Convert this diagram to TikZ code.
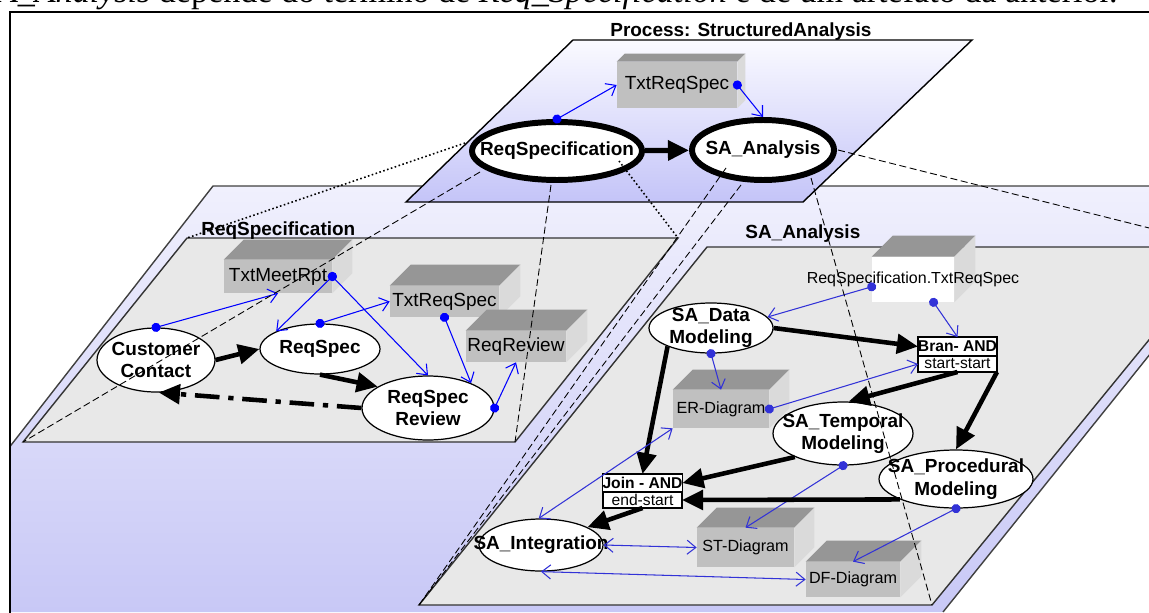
\documentclass[tikz,border=0pt]{standalone}
\usepackage{fontspec}
\setmainfont{Liberation Sans}
\newfontfamily\bodyserif{Liberation Serif}
\usetikzlibrary{arrows.meta,shapes.geometric,positioning,calc}

\definecolor{lavtop}{RGB}{240,240,253}
\definecolor{lavbot}{RGB}{200,200,246}
\definecolor{proctop}{RGB}{250,250,255}
\definecolor{procbot}{RGB}{196,196,248}
\definecolor{planegray}{RGB}{232,232,232}
\definecolor{docfront}{RGB}{192,192,192}
\definecolor{doctop}{RGB}{150,150,150}
\definecolor{docside}{RGB}{218,218,218}
\definecolor{sablue}{RGB}{50,50,215}

% top and right face of an artefact box
\newcommand{\cubefaces}[2]{%
  \fill[doctop] (#1.north west) -- ++(#2,-#2) -- ($(#1.north east)+(#2,-#2)$) -- (#1.north east) -- cycle;
  \fill[docside] (#1.north east) -- ++(#2,-#2) -- ($(#1.south east)+(#2,-#2)$) -- (#1.south east) -- cycle;
}

\begin{document}
\begin{tikzpicture}[x=0.02cm, y=-0.02cm,
    lbl/.style={font=\bfseries\fontsize{10.8}{12.8}\selectfont},
    proc/.style={ellipse, draw, fill=white, inner sep=0pt, line width=0.7pt},
    toproc/.style={proc, line width=3.4pt},
    proctext/.style={font=\bfseries\fontsize{10.8}{12.8}\selectfont, align=center},
    artefact/.style={rectangle, fill=docfront, inner sep=0pt, font=\fontsize{10.8}{12.8}\selectfont},
    smalldoc/.style={artefact, font=\fontsize{9.2}{11}\selectfont},
    andbox/.style={rectangle, draw, fill=white, line width=0.8pt, inner sep=0pt, outer sep=0pt, minimum width=1.58cm, font=\fontsize{8.9}{10}\selectfont},
    flow/.style={line width=2.6pt, -{Triangle[length=12pt,width=11pt]}},
    uses/.style={color=#1, line width=0.6pt, {Circle[length=5.2pt]}-{Straight Barb[length=5pt,width=8pt]}, shorten <=-2.6pt},
    uses/.default=blue,
    both/.style={color=sablue, line width=0.6pt, {Straight Barb[length=5pt,width=8pt]}-{Straight Barb[length=5pt,width=8pt]}},
    proj/.style={line width=0.5pt, dash pattern=on 4pt off 2pt},
    projdot/.style={line width=0.9pt, dash pattern=on 0.9pt off 1.4pt}]
\useasboundingbox (0,0) rectangle (1149,612);
\clip (0,0) rectangle (1149,612);

\node[anchor=base east, inner sep=0pt, font=\bodyserif\fontsize{19.4}{22}\selectfont] (caption) at (1118,3)
  {\textit{SA\_Analysis} depende do término de \textit{Req\_Specification} e de um artefato da anterior.};

% lower level planes
\begin{scope}
  \clip (10,12) rectangle (1160,620);
  \shade[top color=lavtop, bottom color=lavbot] (-119,612) -- (213,186) -- (1285,186) -- (943,612) -- cycle;
  \draw[line width=0.8pt, black!75] (-119,612) -- (213,186) -- (1285,186) -- (943,612);
\end{scope}

\coordinate (reqTL) at (187,238);
\coordinate (reqTR) at (678,238);
\coordinate (reqBR) at (515,442);
\coordinate (reqBL) at (23,442);
\coordinate (saTL) at (707,247);
\coordinate (saTR) at (1225,247);
\coordinate (saBR) at (932,605);
\coordinate (saBL) at (419,605);

\filldraw[fill=planegray, draw=black!80, line width=0.8pt] (reqTL) -- (reqTR) -- (reqBR) -- (reqBL) -- cycle;
\filldraw[fill=planegray, draw=black!80, line width=0.8pt] (saTL) -- (saTR) -- (saBR) -- (saBL) -- cycle;

\node[lbl, anchor=base west, inner sep=0pt] (reqLabel) at (201,235) {ReqSpecification};
\node[lbl, anchor=base west, inner sep=0pt] (saLabel) at (745,238) {SA\_Analysis};

% process plane
\shadedraw[top color=proctop, bottom color=procbot, line width=0.8pt] (573,40) -- (972,40) -- (803,202) -- (406,202) -- cycle;
\node[lbl, anchor=base west, inner sep=0pt] (procLabel) at (610,36) {Process: StructuredAnalysis};

\node[artefact, minimum width=2.4cm, minimum height=0.92cm] (txtTop) at (677,85) {TxtReqSpec};
\cubefaces{txtTop}{8}
\node[toproc, minimum width=3.4cm, minimum height=1.16cm, label={[proctext]center:ReqSpecification}] (reqspecTop) at (557,151) {};
\node[toproc, minimum width=2.84cm, minimum height=1.2cm, label={[proctext]center:SA\_Analysis}] (saTop) at (763,150) {};

% ReqSpecification
\node[artefact, minimum width=2.16cm, minimum height=0.66cm] (txtMeet) at (278,276.5) {TxtMeetRpt};
\cubefaces{txtMeet}{20}
\node[artefact, minimum width=2.18cm, minimum height=0.62cm] (txtReq) at (444.5,301.5) {TxtReqSpec};
\cubefaces{txtReq}{21}
\node[artefact, minimum width=2cm, minimum height=0.62cm] (reqRevDoc) at (516,346.5) {ReqReview};
\cubefaces{reqRevDoc}{21}

\node[proc, minimum width=2.36cm, minimum height=1.28cm, label={[proctext]center:{Customer\\Contact}}] (custContact) at (156,360) {};
\node[proc, minimum width=2.4cm, minimum height=1cm, label={[proctext]center:ReqSpec}] (reqSpec) at (320,349) {};
\node[proc, minimum width=2.64cm, minimum height=1.28cm, label={[proctext]center:{ReqSpec\\Review}}] (reqReview) at (428,408) {};

% SA_Analysis
\node[artefact, fill=white, minimum width=1.64cm, minimum height=0.9cm] (reqTxtIn) at (913,279.5) {};
\cubefaces{reqTxtIn}{21}
\node[inner sep=0pt, font=\fontsize{9.1}{11}\selectfont] (reqTxtName) at (913,279) {ReqSpecification.TxtReqSpec};

\node[smalldoc, minimum width=1.92cm, minimum height=0.76cm] (erDiag) at (721,409) {ER-Diagram};
\cubefaces{erDiag}{20}
\node[smalldoc, minimum width=1.94cm, minimum height=0.78cm] (stDiag) at (745.5,547.5) {ST-Diagram};
\cubefaces{stDiag}{20}
\node[smalldoc, minimum width=1.88cm, minimum height=0.7cm] (dfDiag) at (853,579.5) {DF-Diagram};
\cubefaces{dfDiag}{21}

\node[proc, minimum width=2.48cm, minimum height=1cm, label={[proctext]center:{SA\_Data\\Modeling}}] (saData) at (711,328) {};
\node[proc, minimum width=2.8cm, minimum height=1.26cm, label={[proctext]center:{SA\_Temporal\\Modeling}}] (saTemp) at (843,433.5) {};
\node[proc, minimum width=3.08cm, minimum height=1.16cm, label={[proctext]center:{SA\_Procedural\\Modeling}}] (saProc) at (956,479) {};
\node[proc, minimum width=2.48cm, minimum height=1.04cm, label={[proctext]center:SA\_Integration}] (saInteg) at (541,545) {};

\node[andbox, font=\bfseries\fontsize{8.9}{10}\selectfont, minimum height=0.38cm] (branAnd) at (957.5,346.5) {Bran- AND};
\node[andbox, minimum height=0.32cm, below=0pt of branAnd] (branKind) {start-start};
\node[andbox, font=\bfseries\fontsize{8.9}{10}\selectfont, minimum height=0.36cm] (joinAnd) at (642.5,483) {Join - AND};
\node[andbox, minimum height=0.32cm, below=0pt of joinAnd] (joinKind) {end-start};

% connectors
\draw[flow, line width=3pt] (reqspecTop) -- (saTop);
\draw[uses] (reqspecTop.north) -- (txtTop.west);
\draw[uses] (txtTop.east) -- (saTop.north);

\draw[flow] (custContact.east) -- (reqSpec.west);
\draw[flow] (reqSpec.south) -- (reqReview.157);
\draw[flow, dash pattern=on 14pt off 5pt on 3pt off 5pt] (reqReview.west) -- (custContact.-85);
\draw[uses] (custContact.north) -- (txtMeet.south);
\draw[uses] (txtMeet.east) -- (reqSpec.158);
\draw[uses] (txtMeet.east) -- (reqReview.north);
\draw[uses] (reqSpec.north) -- (txtReq.west);
\draw[uses] (txtReq.south) -- (reqReview.30);
\draw[uses] (reqReview.east) -- (reqRevDoc.south);

\draw[uses=sablue] (reqTxtIn.190) -- (saData.11);
\draw[uses=sablue] (reqTxtIn.-48) -- (branAnd.north);
\draw[flow] (saData.east) -- (branAnd.west);
\draw[uses=sablue] (saData.south) -- (erDiag.north);
\draw[uses=sablue] (erDiag.east) -- (branKind.west);
\draw[flow] (branKind.south) -- (saTemp.80);
\draw[flow] (branKind.south east) -- (saProc.north);
\draw[flow] (saData.203) -- (joinAnd.north);
\draw[uses=sablue] (saTemp.south) -- (stDiag.north);
\draw[flow] (saTemp.206) -- (joinAnd.east);
\draw[flow] (saProc.200) -- (joinKind.east);
\draw[flow] (joinKind.south) -- (saInteg.21);
\draw[both] (saInteg.east) -- (stDiag.west);
\draw[both] (saInteg.south) -- (dfDiag.west);
\draw[both] (saInteg.95) -- (erDiag.south west);
\draw[uses=sablue] (saProc.south) -- (dfDiag.north);

% refinement lines
\draw[projdot] ($(reqspecTop)+(-92,-8)$) -- (reqTL);
\draw[projdot] ($(reqspecTop)+(62,10)$) -- (reqTR);
\draw[proj] ($(reqspecTop)+(-77,21)$) -- (reqBL);
\draw[proj] ($(reqspecTop)+(-6,34)$) -- (reqBR);
\draw[proj] ($(saTop)+(75,0)$) -- (saTR);
\draw[proj] ($(saTop)+(-37,18)$) -- (saBL);
\draw[proj] ($(saTop)+(-22,35)$) -- (saBL);
\draw[proj] ($(saTop)+(48,28)$) -- (saBR);

\draw[line width=1.3pt] (10,620) -- (10,12) -- (1160,12);
\end{tikzpicture}
\end{document}
